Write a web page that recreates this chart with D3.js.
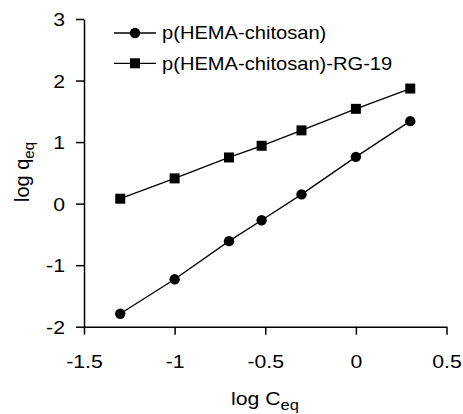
<!DOCTYPE html>
<html>
<head>
<meta charset="utf-8">
<script src="https://cdn.jsdelivr.net/npm/d3@7"></script>
<style>
  body { margin: 0; background: #fff; }
  text { font-family: "Liberation Sans", Arial, sans-serif; fill: #000; }
</style>
</head>
<body>
<script>
// data
const logCeq = [-1.3, -1, -0.7, -0.52, -0.3, 0, 0.3]
const plain = [-1.79, -1.23, -0.61, -0.27, 0.15, 0.76, 1.34]
const rg19 = [0.08, 0.41, 0.75, 0.94, 1.19, 1.54, 1.87]
const seriesNames = ['p(HEMA-chitosan)', 'p(HEMA-chitosan)-RG-19']
const xTicks = [-1.5, -1, -0.5, 0, 0.5]
const yTicks = [-2, -1, 0, 1, 2, 3]

const width = 463
const height = 414
const sx = 1.18 // picture is a bit wider than tall

const svg = d3.select('body').append('svg')
  .attr('width', width)
  .attr('height', height)

const x = d3.scaleLinear().domain([-1.5, 0.5]).range([84, 446.5])
const y = d3.scaleLinear().domain([-2, 3]).range([326.7, 19])

// plain hyphen, not the unicode minus d3 uses
const fmt = d => String(d)

// axes
const xAxis = svg.append('g')
  .attr('transform', `translate(0,${y(-2)})`)
  .call(d3.axisBottom(x).tickValues(xTicks).tickSize(8).tickSizeOuter(0).tickFormat(fmt))
xAxis.selectAll('text')
  .attr('y', null).attr('dy', null)
  .attr('transform', `translate(0,41) scale(${sx},1)`)
  .style('font-size', '18px')

const yAxis = svg.append('g')
  .attr('transform', `translate(${x(-1.5)},0)`)
  .call(d3.axisLeft(y).tickValues(yTicks).tickSize(8).tickSizeOuter(0).tickFormat(fmt))
yAxis.selectAll('text')
  .attr('x', null).attr('dy', null)
  .attr('transform', `translate(-19,6.5) scale(${sx},1)`)
  .style('font-size', '18px')

svg.selectAll('.domain, .tick line')
  .attr('stroke', '#000')
  .attr('stroke-width', 1.5)
svg.selectAll('.tick text').attr('fill', '#000')

// lines
const line = d3.line().x((d, i) => x(logCeq[i])).y(d => y(d))

svg.append('path').datum(plain)
  .attr('d', line).attr('fill', 'none').attr('stroke', '#000').attr('stroke-width', 1.3)
svg.append('path').datum(rg19)
  .attr('d', line).attr('fill', 'none').attr('stroke', '#000').attr('stroke-width', 1.3)

svg.selectAll('circle.pt').data(plain).enter()
  .append('circle').attr('class', 'pt')
  .attr('cx', (d, i) => x(logCeq[i]))
  .attr('cy', d => y(d))
  .attr('r', 5.2)
  .attr('fill', '#000')

svg.selectAll('rect.pt').data(rg19).enter()
  .append('rect').attr('class', 'pt')
  .attr('x', (d, i) => x(logCeq[i]) - 5)
  .attr('y', d => y(d) - 5)
  .attr('width', 10)
  .attr('height', 10)
  .attr('fill', '#000')

// legend
const legend = svg.append('g')
const rows = [33, 63.3]
seriesNames.forEach((name, i) => {
  const g = legend.append('g').attr('transform', `translate(0,${rows[i]})`)
  g.append('line').attr('x1', 114).attr('x2', 156).attr('stroke', '#000').attr('stroke-width', 1.3)
  if (i === 0) {
    g.append('circle').attr('cx', 135).attr('r', 5.2).attr('fill', '#000')
  } else {
    g.append('rect').attr('x', 130).attr('y', -5).attr('width', 10).attr('height', 10).attr('fill', '#000')
  }
  g.append('text')
    .attr('transform', `translate(162,6.3) scale(1.15,1)`)
    .style('font-size', '17.5px')
    .text(name)
})

// axis titles
const xt = svg.append('text')
  .attr('transform', `translate(265,405) scale(${sx},1)`)
  .attr('text-anchor', 'middle')
  .style('font-size', '18px')
xt.append('tspan').text('log C')
xt.append('tspan').attr('dy', 5).style('font-size', '14px').text('eq')

const yt = svg.append('text')
  .attr('transform', 'translate(29,172) rotate(-90)')
  .attr('text-anchor', 'middle')
  .style('font-size', '20px')
yt.append('tspan').text('log q')
yt.append('tspan').attr('dy', 5).style('font-size', '15px').text('eq')
</script>
</body>
</html>
